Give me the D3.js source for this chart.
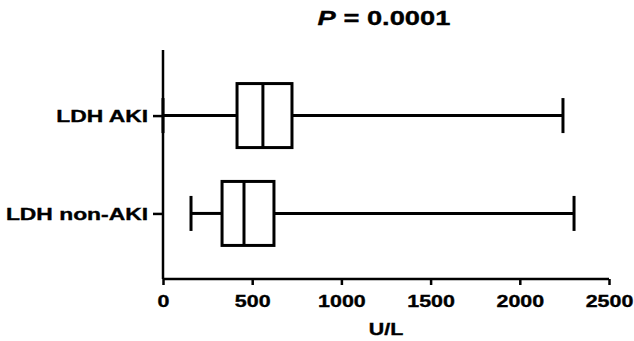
<!DOCTYPE html>
<html>
<head>
<meta charset="utf-8">
<script src="https://cdn.jsdelivr.net/npm/d3@7"></script>
<style>
  html, body { margin: 0; padding: 0; background: #fff; }
  svg { display: block; }
  text { font-family: "Liberation Sans", Arial, sans-serif; font-weight: bold; fill: #000; stroke: #000; stroke-width: 0.35px; }
</style>
</head>
<body>
<svg id="chart" width="634" height="341"></svg>
<script>
// ---- data ----
const categories = ["LDH AKI", "LDH non-AKI"];
const minValues    = [0,    157];
const q1Values     = [415,  331];
const medianValues = [560,  454];
const q3Values     = [723,  622];
const maxValues    = [2242, 2304];
const xTicks = [0, 500, 1000, 1500, 2000, 2500];
const titleText = "0.0001";
const xLabel = "U/L";

(function () {
// ---- layout ----
const svg = d3.select("#chart");
const mLeft = 163, mRight = 609, mTop = 50, mBottom = 279;
const sx = 1.3;   // horizontal stretch of text
const sxy = 1.36; // stretch for category labels

const x = d3.scaleLinear().domain([0, 2500]).range([mLeft, mRight]);
const y = d3.scalePoint().domain(categories).range([mTop, mBottom]).padding(0.67);

const boxHalf = 32, capHalf = 17.5, lw = 3;

// x axis
const xAxis = svg.append("g")
  .attr("transform", `translate(0,${mBottom})`)
  .call(d3.axisBottom(x).tickValues(xTicks).tickSize(6).tickPadding(6).tickFormat(d3.format("d")));
xAxis.select(".domain").attr("stroke", "#000").attr("stroke-width", 2.5)
  .attr("d", `M${mLeft},0H${mRight}`);
xAxis.selectAll(".tick line").attr("stroke", "#000").attr("stroke-width", 2.5);
xAxis.selectAll(".tick text")
  .attr("font-size", 16.5).attr("font-family", "Liberation Sans, Arial, sans-serif")
  .attr("font-weight", "bold").attr("fill", "#000")
  .attr("transform", `scale(${sx},1)`).attr("dy", null).attr("y", 28);

// y axis
const yAxis = svg.append("g")
  .attr("transform", `translate(${mLeft},0)`)
  .call(d3.axisLeft(y).tickSize(10).tickPadding(3));
yAxis.select(".domain").attr("stroke", "#000").attr("stroke-width", 2.5)
  .attr("d", `M0,${mTop}V${mBottom}`);
yAxis.selectAll(".tick line").attr("stroke", "#000").attr("stroke-width", 2.5);
yAxis.selectAll(".tick text")
  .attr("font-size", 16.8).attr("font-family", "Liberation Sans, Arial, sans-serif")
  .attr("font-weight", "bold").attr("fill", "#000")
  .attr("x", -15 / sxy).attr("dy", "0.35em")
  .attr("transform", `scale(${sxy},1)`);

// boxes
const data = categories.map((c, i) => ({
  c, min: minValues[i], q1: q1Values[i], med: medianValues[i], q3: q3Values[i], max: maxValues[i]
}));
const g = svg.append("g").attr("stroke", "#000").attr("stroke-width", lw).attr("fill", "none");
data.forEach(d => {
  const cy = y(d.c);
  g.append("line").attr("x1", x(d.min)).attr("x2", x(d.q1)).attr("y1", cy).attr("y2", cy);
  g.append("line").attr("x1", x(d.q3)).attr("x2", x(d.max)).attr("y1", cy).attr("y2", cy);
  g.append("line").attr("x1", x(d.min)).attr("x2", x(d.min)).attr("y1", cy - capHalf).attr("y2", cy + capHalf);
  g.append("line").attr("x1", x(d.max)).attr("x2", x(d.max)).attr("y1", cy - capHalf).attr("y2", cy + capHalf);
  g.append("rect").attr("x", x(d.q1)).attr("y", cy - boxHalf)
    .attr("width", x(d.q3) - x(d.q1)).attr("height", 2 * boxHalf).attr("fill", "#fff");
  g.append("line").attr("x1", x(d.med)).attr("x2", x(d.med)).attr("y1", cy - boxHalf).attr("y2", cy + boxHalf);
});

// title
const t = svg.append("text")
  .attr("text-anchor", "middle").attr("font-size", 21)
  .attr("transform", `translate(384,25) scale(${sx},1)`);
t.append("tspan").attr("font-style", "italic").text("P");
t.append("tspan").text(" = " + titleText);

// x label
svg.append("text")
  .attr("text-anchor", "middle").attr("font-size", 16.5)
  .attr("transform", `translate(386,335) scale(${sx},1)`)
  .text(xLabel);
})();
</script>
</body>
</html>
